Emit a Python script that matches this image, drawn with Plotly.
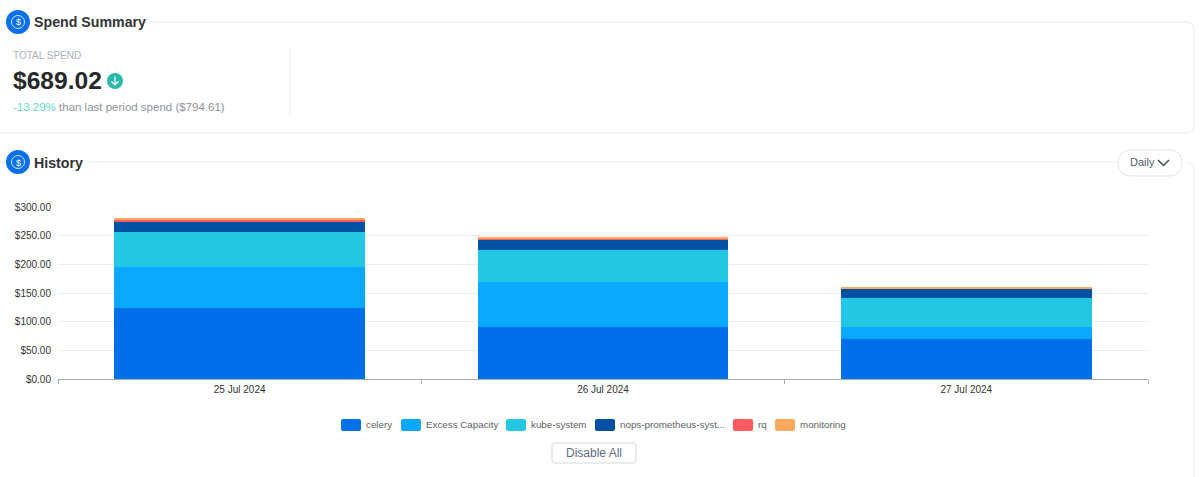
import plotly.graph_objects as go

W, H = 1200, 477

days = ["25 Jul 2024", "26 Jul 2024", "27 Jul 2024"]
celery = [124, 90.5, 70]
excess_capacity = [71, 79, 20]
kube_system = [61, 56, 51]
nops_prometheus = [19.5, 17.5, 16]
rq = [2.5, 2.2, 1.5]
monitoring = [1.8, 1.5, 1]

series_names = ["celery", "Excess Capacity", "kube-system", "nops-prometheus-syst...", "rq", "monitoring"]
series_values = [celery, excess_capacity, kube_system, nops_prometheus, rq, monitoring]
series_colors = ["#0070ea", "#0aa9ff", "#22c7e4", "#0050a4", "#ff5a5f", "#ffa95e"]
y_ticks = [0, 50, 100, 150, 200, 250, 300]
y_labels = ["$0.00", "$50.00", "$100.00", "$150.00", "$200.00", "$250.00", "$300.00"]
legend_swatch_x = [341, 401, 506, 595, 733, 775]

FONT = "Liberation Sans"
LINE = "#e6ecf0"


def px(x):
    return x / W


def py(y):
    return 1 - y / H


def path(*parts):
    # parts are letters or (x, y) pairs in screen pixels
    out = []
    for p in parts:
        if isinstance(p, str):
            out.append(p)
        else:
            out.append(f"{px(p[0]):.5f},{py(p[1]):.5f}")
    return " ".join(out)


def rounded(x0, y0, x1, y1, r):
    return path("M", (x0 + r, y0), "L", (x1 - r, y0), "Q", (x1, y0), (x1, y0 + r),
                "L", (x1, y1 - r), "Q", (x1, y1), (x1 - r, y1),
                "L", (x0 + r, y1), "Q", (x0, y1), (x0, y1 - r),
                "L", (x0, y0 + r), "Q", (x0, y0), (x0 + r, y0), "Z")


def shape(d, fill=None, color=None, width=1):
    s = dict(type="path", xref="paper", yref="paper", path=d, layer="above",
             line=dict(color=color or "rgba(0,0,0,0)", width=width if color else 0))
    if fill:
        s["fillcolor"] = fill
    return s


def circle(cx, cy, r, fill=None, color=None, width=1):
    s = dict(type="circle", xref="paper", yref="paper", layer="above",
             x0=px(cx - r), x1=px(cx + r), y0=py(cy + r), y1=py(cy - r),
             line=dict(color=color or "rgba(0,0,0,0)", width=width if color else 0))
    if fill:
        s["fillcolor"] = fill
    return s


def text(x, y, s, size, color, anchor="left", bold=False):
    return dict(x=px(x), y=py(y), xref="paper", yref="paper", text=f"<b>{s}</b>" if bold else s,
                showarrow=False, xanchor=anchor, yanchor="middle", borderpad=0, borderwidth=0,
                font=dict(family=FONT, size=size, color=color))


fig = go.Figure()
for name, values, color in zip(series_names, series_values, series_colors):
    fig.add_trace(go.Bar(x=days, y=values, name=name, marker=dict(color=color, line=dict(width=0)),
                         showlegend=False))

shapes = []
annotations = []

# panel outlines, broken where the titles sit
shapes.append(shape(path("M", (0, 22), "L", (6, 22)), color=LINE))
shapes.append(shape(path("M", (150, 22), "L", (1186, 22), "Q", (1194, 22), (1194, 30),
                         "L", (1194, 125), "Q", (1194, 133), (1186, 133), "L", (0, 133)), color=LINE))
shapes.append(shape(path("M", (0, 162), "L", (6, 162)), color=LINE))
shapes.append(shape(path("M", (88, 162), "L", (1118, 162)), color=LINE))
shapes.append(shape(path("M", (1186, 162), "Q", (1194, 162), (1194, 170), "L", (1194, 477)), color=LINE))
shapes.append(shape(path("M", (290, 48), "L", (290, 116)), color="#e9eef1"))

# title icons
for cy in (22, 162):
    shapes.append(circle(18, cy, 12, fill="#0a70ea"))
    shapes.append(circle(18, cy, 6.5, color="#cfe3fb", width=1))
    annotations.append(text(18, cy + 0.5, "$", 9, "#ffffff", anchor="center"))

annotations.append(text(34, 22, "Spend Summary", 14.2, "#333333", bold=True))
annotations.append(text(34, 162.5, "History", 14.2, "#333333", bold=True))

# summary block
annotations.append(text(13, 55, "TOTAL SPEND", 10, "#a9afb8"))
annotations.append(text(13, 81, "$689.02", 24.6, "#26282b", bold=True))
shapes.append(circle(115, 81, 8, fill="#2bb8ab"))
shapes.append(shape(path("M", (115, 76.5), "L", (115, 85), "M", (111.5, 81.5), "L", (115, 85), "L", (118.5, 81.5)),
                    color="#ffffff", width=1.2))
annotations.append(text(13, 107, '<span style="color:#5fd6cb">-13.29%</span> than last period spend ($794.61)',
                        11.5, "#8d939c"))

# Daily dropdown
shapes.append(shape(rounded(1118, 150, 1182, 176, 13), fill="#ffffff", color="#dfe4e8"))
annotations.append(text(1130, 162, "Daily", 11, "#4f5b6b"))
shapes.append(shape(path("M", (1158, 160), "L", (1163.5, 165.5), "L", (1169, 160)), color="#3f4a58", width=1.5))

# legend
for x0, name, color in zip(legend_swatch_x, series_names, series_colors):
    shapes.append(shape(rounded(x0, 419, x0 + 20, 431, 2), fill=color))
    annotations.append(text(x0 + 25, 424, name, 9.8, "#5b5f66"))

# Disable All button
shapes.append(shape(rounded(552, 443, 636, 463, 3), fill="#ffffff", color="#e2e5e8", width=1.5))
annotations.append(text(594, 453, "Disable All", 12, "#5b6b80", anchor="center"))

fig.update_layout(
    barmode="stack",
    bargap=0.31,
    width=W,
    height=H,
    margin=dict(l=0, r=0, t=0, b=0),
    paper_bgcolor="#ffffff",
    plot_bgcolor="#ffffff",
    font=dict(family=FONT, size=10, color="#333333"),
    shapes=shapes,
    annotations=annotations,
    xaxis=dict(domain=[px(58), px(1148)], type="category", showgrid=False, showline=True,
               linecolor="#a8acb2", linewidth=1, ticks="outside", ticklen=4, tickcolor="#a8acb2",
               tickson="boundaries", tickfont=dict(size=10, color="#333333"), anchor="y",
               ticklabelstandoff=1, automargin=False),
    yaxis=dict(domain=[py(379), py(207)], range=[0, 300], tickvals=y_ticks, ticktext=y_labels,
               showgrid=True, gridcolor="#e9edf6", gridwidth=1, zeroline=False, showline=False,
               ticks="", ticklabelstandoff=6, tickfont=dict(size=10, color="#333333"), anchor="x",
               automargin=False),
)

# the page's default body margin would push the figure off the window
fig.write_html("out.html", config=dict(displayModeBar=False),
               post_script="document.body.style.margin='0';document.documentElement.style.overflow='hidden';")
